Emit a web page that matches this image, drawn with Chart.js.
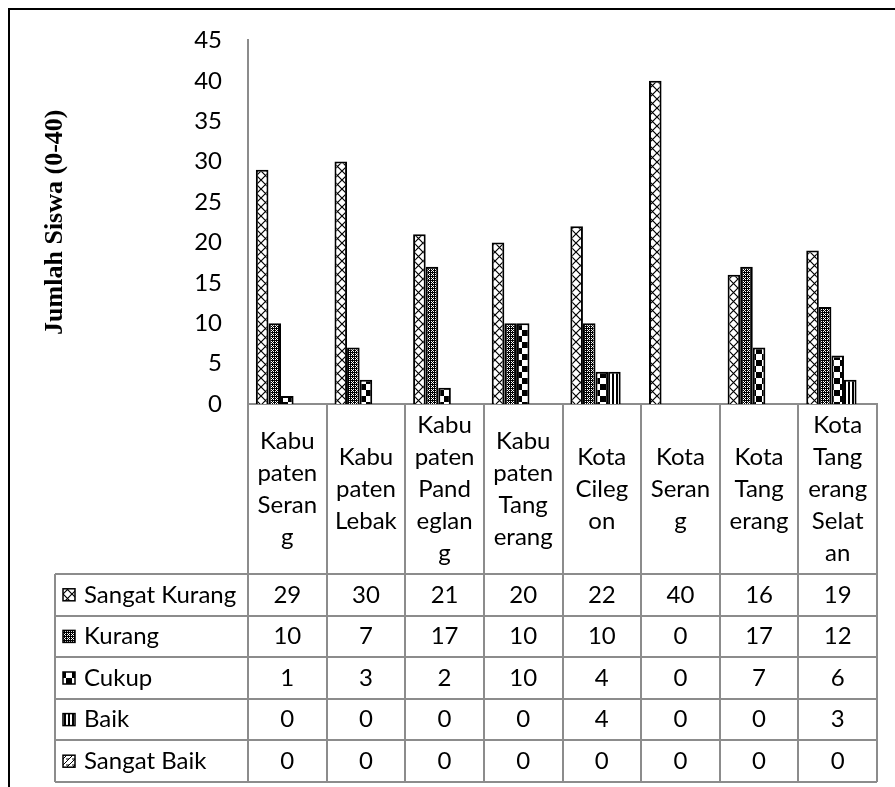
<!DOCTYPE html>
<html>
<head>
<meta charset="utf-8">
<script src="https://cdn.jsdelivr.net/npm/chart.js@4/dist/chart.umd.min.js"></script>
<style>
  html, body { margin: 0; padding: 0; background: #fff; }
  #wrap { position: relative; width: 895px; height: 787px; }
</style>
</head>
<body>
<div id="wrap"><canvas id="c"></canvas></div>
<script>
// Regions (kabupaten / kota) in Banten
const categories = [
  'Kabupaten Serang', 'Kabupaten Lebak', 'Kabupaten Pandeglang', 'Kabupaten Tangerang',
  'Kota Cilegon', 'Kota Serang', 'Kota Tangerang', 'Kota Tangerang Selatan'
];
// Category labels as wrapped in the table header
const categoryLines = [
  ['Kabu', 'paten', 'Seran', 'g'],
  ['Kabu', 'paten', 'Lebak'],
  ['Kabu', 'paten', 'Pand', 'eglan', 'g'],
  ['Kabu', 'paten', 'Tang', 'erang'],
  ['Kota', 'Cileg', 'on'],
  ['Kota', 'Seran', 'g'],
  ['Kota', 'Tang', 'erang'],
  ['Kota', 'Tang', 'erang', 'Selat', 'an']
];
const seriesNames = ['Sangat Kurang', 'Kurang', 'Cukup', 'Baik', 'Sangat Baik'];
const sangatKurang = [29, 30, 21, 20, 22, 40, 16, 19];
const kurang       = [10, 7, 17, 10, 10, 0, 17, 12];
const cukup        = [1, 3, 2, 10, 4, 0, 7, 6];
const baik         = [0, 0, 0, 0, 4, 0, 0, 3];
const sangatBaik   = [0, 0, 0, 0, 0, 0, 0, 0];
const yTicks = [0, 5, 10, 15, 20, 25, 30, 35, 40, 45];
const yTitle = 'Jumlah Siswa (0-40)';

const FONT = 'Lato';
const TEXT_SIZE = 24;
const GRID = '#8c8c8c';

// Black-and-white fill patterns
function tile(w, h, draw) {
  const c = document.createElement('canvas');
  c.width = w; c.height = h;
  const g = c.getContext('2d');
  g.fillStyle = '#fff';
  g.fillRect(0, 0, w, h);
  g.fillStyle = '#000';
  g.strokeStyle = '#000';
  draw(g, w, h);
  return c;
}
const tiles = [
  tile(9, 9, (g) => {           // diamond lattice
    g.lineWidth = 1.2;
    g.beginPath();
    g.moveTo(0, 0); g.lineTo(9, 9);
    g.moveTo(9, 0); g.lineTo(0, 9);
    g.stroke();
  }),
  tile(4, 4, (g) => {           // fine dotted grid
    g.fillRect(0, 0, 4, 4);
    g.clearRect(1, 1, 1, 1);
    g.clearRect(3, 3, 1, 1);
    g.clearRect(3, 1, 1, 1);
    g.clearRect(1, 3, 1, 1);
    g.fillStyle = '#fff';
    g.fillRect(1, 1, 1, 1);
    g.fillRect(3, 3, 1, 1);
    g.fillRect(3, 1, 1, 1);
    g.fillRect(1, 3, 1, 1);
    g.fillRect(0, 2, 1, 1);
  }),
  tile(12, 12, (g) => {         // large checkerboard
    g.fillRect(0, 0, 6, 6);
    g.fillRect(6, 6, 6, 6);
  }),
  tile(4, 4, (g) => {           // vertical stripes
    g.fillRect(0, 0, 2, 4);
  }),
  tile(6, 6, (g) => {           // diagonal shingles
    g.lineWidth = 1;
    g.beginPath();
    g.moveTo(0, 6); g.lineTo(6, 0);
    g.moveTo(0, 3); g.lineTo(3, 3);
    g.stroke();
  })
];
const tmpCtx = document.createElement('canvas').getContext('2d');
const patterns = tiles.map(t => tmpCtx.createPattern(t, 'repeat'));

const seriesData = [sangatKurang, kurang, cukup, baik, sangatBaik];

// Data table under the plot: header row with wrapped category names,
// then one row per series with its legend swatch.
const dataTable = {
  id: 'dataTable',
  afterDraw(chart) {
    const ctx = chart.ctx;
    const area = chart.chartArea;
    const xs = chart.scales.x;
    const n = categories.length;
    const colW = (area.right - area.left) / n;
    const headTop = area.bottom;
    const headBottom = 574;
    const rowH = (782 - headBottom) / seriesNames.length;
    const tableBottom = headBottom + rowH * seriesNames.length;
    const legendLeft = 55;

    ctx.save();
    // grid
    ctx.strokeStyle = GRID;
    ctx.lineWidth = 2;
    ctx.beginPath();
    for (let i = 0; i <= n; i++) {
      const x = Math.round(area.left + i * colW);
      ctx.moveTo(x, i === 0 ? area.bottom : headTop);
      ctx.lineTo(x, tableBottom);
    }
    for (let r = 0; r <= seriesNames.length; r++) {
      const y = Math.round(headBottom + r * rowH);
      ctx.moveTo(legendLeft, y);
      ctx.lineTo(area.right, y);
    }
    ctx.moveTo(legendLeft, headBottom);
    ctx.lineTo(legendLeft, tableBottom);
    ctx.stroke();

    // header text
    ctx.fillStyle = '#000';
    ctx.font = TEXT_SIZE + 'px ' + FONT;
    ctx.textAlign = 'center';
    ctx.textBaseline = 'middle';
    const lh = 32;
    const headMid = (headTop + headBottom) / 2;
    categoryLines.forEach((lines, i) => {
      const cx = xs.getPixelForValue(i);
      const y0 = headMid - (lines.length - 1) * lh / 2;
      lines.forEach((t, k) => ctx.fillText(t, cx, y0 + k * lh));
    });

    // rows
    seriesNames.forEach((name, r) => {
      const cy = headBottom + (r + 0.5) * rowH;
      // swatch
      const sx = 63, s = 12;
      ctx.fillStyle = patterns[r];
      ctx.fillRect(sx, cy - s / 2, s, s);
      ctx.strokeStyle = '#000';
      ctx.lineWidth = 1.5;
      ctx.strokeRect(sx, cy - s / 2, s, s);
      ctx.fillStyle = '#000';
      ctx.textAlign = 'left';
      ctx.fillText(name, 84, cy);
      ctx.textAlign = 'center';
      seriesData[r].forEach((v, i) => ctx.fillText(String(v), xs.getPixelForValue(i), cy));
    });

    // outer frame
    ctx.strokeStyle = '#000';
    ctx.lineWidth = 2;
    ctx.beginPath();
    ctx.moveTo(9, chart.height);
    ctx.lineTo(9, 9);
    ctx.lineTo(chart.width, 9);
    ctx.stroke();
    ctx.restore();
  }
};

new Chart(document.getElementById('c'), {
  type: 'bar',
  data: {
    labels: categories,
    datasets: seriesNames.map((name, i) => ({
      label: name,
      data: seriesData[i],
      backgroundColor: patterns[i],
      borderColor: '#000',
      borderWidth: 2,
      borderSkipped: 'bottom'
    }))
  },
  options: {
    responsive: true,
    maintainAspectRatio: false,
    animation: false,
    devicePixelRatio: 1,
    layout: { padding: { top: 40, right: 18, bottom: 0, left: 0 } },
    datasets: { bar: { categoryPercentage: 0.8, barPercentage: 1.0 } },
    plugins: { legend: { display: false }, tooltip: { enabled: false } },
    scales: {
      x: {
        grid: { display: false, drawTicks: false },
        border: { display: true, color: GRID, width: 2 },
        ticks: { display: false },
        afterFit(scale) { scale.height = 383; }
      },
      y: {
        min: 0,
        max: 45,
        afterBuildTicks(scale) { scale.ticks = yTicks.map(v => ({ value: v })); },
        grid: { display: false, drawTicks: false },
        border: { display: true, color: GRID, width: 2 },
        ticks: {
          padding: 26,
          color: '#000',
          font: { family: FONT, size: TEXT_SIZE }
        },
        title: {
          display: true,
          text: yTitle,
          color: '#000',
          font: { family: 'Liberation Serif', size: 26, weight: 'bold' },
          padding: { top: 40, bottom: 0 }
        },
        afterFit(scale) { scale.width = 248; }
      }
    }
  },
  plugins: [dataTable]
});
</script>
</body>
</html>
